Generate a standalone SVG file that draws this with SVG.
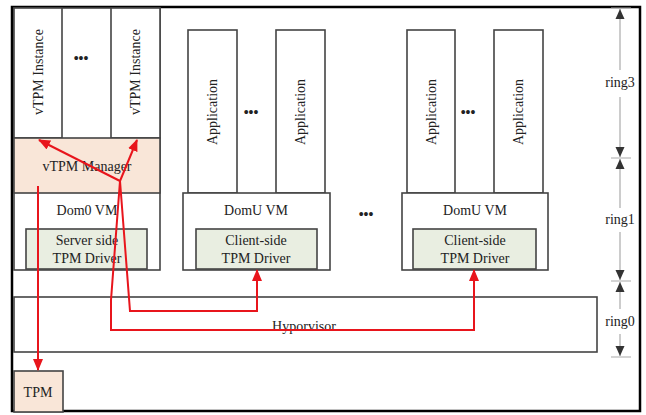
<svg xmlns="http://www.w3.org/2000/svg" width="646" height="415" viewBox="0 0 646 415">
<style>
text{font-family:"Liberation Serif","Times New Roman",serif;font-size:14px;fill:#222;text-anchor:middle}
.box{fill:#fff;stroke:#444;stroke-width:1.6}
.peach{fill:#f9e6d8;stroke:#444;stroke-width:1.6}
.drv{fill:#e9eee1;stroke:#444;stroke-width:1.6}
.red{fill:none;stroke:#e8151c;stroke-width:2}
.ring{fill:none;stroke:#aaa;stroke-width:1.2}
.dots{font-weight:bold;font-size:14px}
</style>
<defs>
<marker id="ra" markerUnits="userSpaceOnUse" markerWidth="12" markerHeight="10" refX="11" refY="5" orient="auto"><path d="M0,0 L12,5 L0,10 z" fill="#e8151c"/></marker>
<marker id="ga" markerUnits="userSpaceOnUse" markerWidth="10" markerHeight="10" refX="10" refY="5" orient="auto"><path d="M0,0.5 L10,5 L0,9.5 z" fill="#333"/></marker>
</defs>
<rect x="0" y="0" width="646" height="415" fill="#fff"/>
<rect x="12" y="7" width="628" height="404" fill="none" stroke="#000" stroke-width="2.5"/>

<g id="dom0">
<rect class="box" x="14" y="8" width="146" height="262"/>
<rect class="box" x="14" y="8" width="48" height="130"/>
<rect class="box" x="111" y="8" width="49" height="130"/>
<text transform="translate(43,72) rotate(-90)">vTPM Instance</text>
<text transform="translate(140,72) rotate(-90)">vTPM Instance</text>
<text class="dots" x="81" y="63">•••</text>
<rect class="peach" x="14" y="138" width="146" height="55"/>
<text x="87" y="171">vTPM Manager</text>
<text x="87" y="215">Dom0 VM</text>
<rect class="drv" x="26" y="229" width="121" height="40"/>
<text x="87" y="245">Server side</text>
<text x="87" y="263">TPM Driver</text>
</g>

<g id="domu1">
<rect class="box" x="188" y="30" width="49" height="163"/>
<rect class="box" x="276" y="30" width="49" height="163"/>
<text transform="translate(217,112) rotate(-90)">Application</text>
<text transform="translate(305,112) rotate(-90)">Application</text>
<text class="dots" x="251" y="117">•••</text>
<rect class="box" x="183" y="193" width="147" height="77"/>
<text x="256" y="215">DomU VM</text>
<rect class="drv" x="196" y="229" width="121" height="40"/>
<text x="256" y="245">Client-side</text>
<text x="256" y="263">TPM Driver</text>
</g>

<text class="dots" x="366" y="219">•••</text>

<g id="domu2">
<rect class="box" x="407" y="30" width="48" height="163"/>
<rect class="box" x="494" y="30" width="49" height="163"/>
<text transform="translate(436,112) rotate(-90)">Application</text>
<text transform="translate(523,112) rotate(-90)">Application</text>
<text class="dots" x="468" y="117">•••</text>
<rect class="box" x="402" y="193" width="146" height="77"/>
<text x="475" y="215">DomU VM</text>
<rect class="drv" x="413" y="229" width="123" height="40"/>
<text x="475" y="245">Client-side</text>
<text x="475" y="263">TPM Driver</text>
</g>

<g id="hypervisor">
<rect class="box" x="14" y="297" width="583" height="55"/>
<text x="304" y="331">Hyporvisor</text>
</g>

<g id="tpm">
<rect class="peach" x="14" y="371" width="49" height="41"/>
<text x="38" y="397">TPM</text>
</g>

<g id="rings">
<path class="ring" d="M611,8 H631 M611,158 H631 M611,281 H631 M611,357 H631"/>
<path class="ring" d="M620,70 V9" marker-end="url(#ga)"/>
<path class="ring" d="M620,97 V157" marker-end="url(#ga)"/>
<path class="ring" d="M620,208 V159" marker-end="url(#ga)"/>
<path class="ring" d="M620,232 V280" marker-end="url(#ga)"/>
<path class="ring" d="M620,309 V282" marker-end="url(#ga)"/>
<path class="ring" d="M620,334 V356" marker-end="url(#ga)"/>
<text x="620" y="87">ring3</text>
<text x="620" y="224">ring1</text>
<text x="620" y="326">ring0</text>
</g>

<g id="connectors">
<path class="red" d="M38,186 V370" marker-end="url(#ra)"/>
<path class="red" d="M120,181 L39,140" marker-end="url(#ra)"/>
<path class="red" d="M120,181 L137,140" marker-end="url(#ra)"/>
<path class="red" d="M120,181 L130,311 H257 V270" marker-end="url(#ra)"/>
<path class="red" d="M120,181 L111,300 V330 H474 V270" marker-end="url(#ra)"/>
</g>
</svg>
